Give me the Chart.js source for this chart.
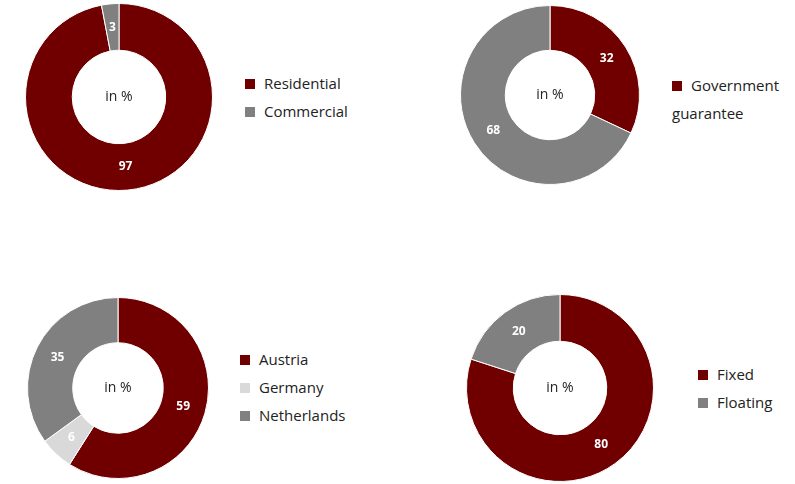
<!DOCTYPE html>
<html>
<head>
<meta charset="utf-8">
<script src="https://cdn.jsdelivr.net/npm/chart.js@4"></script>
<style>
    body { margin: 0; width: 795px; height: 484px; background: #fff; position: relative; font-family: 'Open Sans', 'Liberation Sans', sans-serif; }
    .box { position: absolute; }
    .legend { position: absolute; font-size: 15px; color: #222; line-height: 28px; }
    .legend span { display: inline-block; width: 10px; height: 10px; margin-right: 9px; vertical-align: 0px; }
</style>
</head>
<body>
<div class="box" id="b1"><canvas id="c1"></canvas></div>
<div class="box" id="b2"><canvas id="c2"></canvas></div>
<div class="box" id="b3"><canvas id="c3"></canvas></div>
<div class="box" id="b4"><canvas id="c4"></canvas></div>
<div id="legends"></div>
<script>
(() => {
    const DARK = '#700000', GREY = '#808080', LIGHT = '#d9d9d9';

    const useLabels = ['Residential', 'Commercial'];
    const useValues = [97, 3];
    const guaranteeLabels = ['Government guarantee', ''];
    const guaranteeValues = [32, 68];
    const countryLabels = ['Austria', 'Germany', 'Netherlands'];
    const countryValues = [59, 6, 35];
    const rateLabels = ['Fixed', 'Floating'];
    const rateValues = [80, 20];

    const charts = [
        { id: 1, cx: 119, cy: 97, r: 93, labels: useLabels, values: useValues, colors: [DARK, GREY], legend: [[DARK, 'Residential'], [GREY, 'Commercial']], lx: 245, ly: 69 },
        { id: 2, cx: 550, cy: 95, r: 89, labels: guaranteeLabels, values: guaranteeValues, colors: [DARK, GREY], legend: [[DARK, 'Government<br>guarantee']], lx: 672, ly: 71 },
        { id: 3, cx: 118, cy: 388, r: 90, labels: countryLabels, values: countryValues, colors: [DARK, LIGHT, GREY], legend: [[DARK, 'Austria'], [LIGHT, 'Germany'], [GREY, 'Netherlands']], lx: 240, ly: 345 },
        { id: 4, cx: 560, cy: 388, r: 93, labels: rateLabels, values: rateValues, colors: [DARK, GREY], legend: [[DARK, 'Fixed'], [GREY, 'Floating']], lx: 698, ly: 360 },
    ];

    const labelPlugin = {
        id: 'sliceLabels',
        afterDatasetsDraw(chart) {
            const ctx = chart.ctx;
            ctx.save();
            ctx.textAlign = 'center';
            ctx.textBaseline = 'middle';
            const meta = chart.getDatasetMeta(0);
            ctx.font = 'bold 12px "Open Sans", sans-serif';
            ctx.fillStyle = '#fff';
            meta.data.forEach((arc, i) => {
                const p = arc.getCenterPoint();
                ctx.fillText(chart.data.datasets[0].data[i], p.x, p.y);
            });
            const a = meta.data[0];
            ctx.font = '14px "Open Sans", sans-serif';
            ctx.fillStyle = '#222';
            ctx.fillText('in %', a.x, a.y);
            ctx.restore();
        },
    };

    const legendRoot = document.getElementById('legends');

    charts.forEach((c) => {
        const box = document.getElementById(`b${c.id}`);
        const size = 2 * c.r + 2;
        Object.assign(box.style, { left: `${c.cx - size / 2}px`, top: `${c.cy - size / 2}px`, width: `${size}px`, height: `${size}px` });

        new Chart(document.getElementById(`c${c.id}`), {
            type: 'doughnut',
            data: {
                labels: c.labels,
                datasets: [{ data: c.values, backgroundColor: c.colors, borderColor: '#fff', borderWidth: 1 }],
            },
            options: {
                responsive: true,
                maintainAspectRatio: false,
                animation: false,
                cutout: '50%',
                layout: { padding: 0 },
                plugins: { legend: { display: false }, tooltip: { enabled: false } },
            },
            plugins: [labelPlugin],
        });

        const lg = document.createElement('div');
        lg.className = 'legend';
        lg.style.left = `${c.lx}px`;
        lg.style.top = `${c.ly}px`;
        lg.innerHTML = c.legend.map(([col, txt]) => `<div><span style="background:${col}"></span>${txt}</div>`).join('');
        legendRoot.appendChild(lg);
    });
})();
</script>
</body>
</html>
